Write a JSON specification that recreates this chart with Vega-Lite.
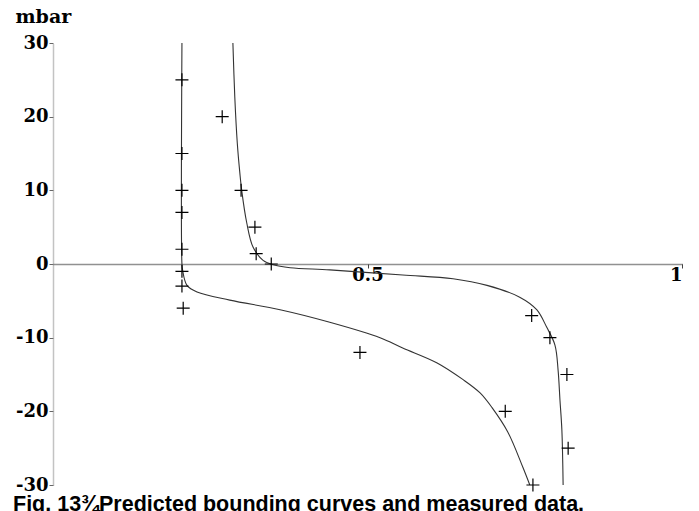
{
  "$schema": "https://vega.github.io/schema/vega-lite/v6.json",
  "width": 629,
  "height": 442,
  "autosize": "none",
  "padding": {"left": 53, "top": 43, "right": 17, "bottom": 26},
  "background": "white",
  "title": {
    "text": "Fig. 13¾Predicted bounding curves and measured data.",
    "orient": "bottom",
    "anchor": "start",
    "frame": "group",
    "dx": -40,
    "offset": 0,
    "font": "Liberation Sans",
    "fontSize": 21.5,
    "fontWeight": "bold",
    "color": "black"
  },
  "config": {
    "view": {"stroke": null},
    "axis": {"grid": false}
  },
  "datasets": {
    "curves": [
      {"curve": "A", "i": 1, "x": 0.205, "y": 30},
      {"curve": "A", "i": 2, "x": 0.205, "y": 0},
      {"curve": "A", "i": 3, "x": 0.206, "y": -0.8},
      {"curve": "A", "i": 4, "x": 0.213, "y": -2.9},
      {"curve": "A", "i": 5, "x": 0.229, "y": -3.8},
      {"curve": "A", "i": 6, "x": 0.281, "y": -4.9},
      {"curve": "A", "i": 7, "x": 0.361, "y": -6.2},
      {"curve": "A", "i": 8, "x": 0.44, "y": -7.9},
      {"curve": "A", "i": 9, "x": 0.52, "y": -10.0},
      {"curve": "A", "i": 10, "x": 0.556, "y": -11.4},
      {"curve": "A", "i": 11, "x": 0.61, "y": -13.4},
      {"curve": "A", "i": 12, "x": 0.652, "y": -15.7},
      {"curve": "A", "i": 13, "x": 0.679, "y": -17.5},
      {"curve": "A", "i": 14, "x": 0.698, "y": -19.5},
      {"curve": "A", "i": 15, "x": 0.723, "y": -22.8},
      {"curve": "A", "i": 16, "x": 0.747, "y": -27.6},
      {"curve": "A", "i": 17, "x": 0.758, "y": -30},
      {"curve": "B", "i": 1, "x": 0.286, "y": 30},
      {"curve": "B", "i": 2, "x": 0.289, "y": 22.7},
      {"curve": "B", "i": 3, "x": 0.293, "y": 16.4},
      {"curve": "B", "i": 4, "x": 0.297, "y": 12.4},
      {"curve": "B", "i": 5, "x": 0.3, "y": 10.0},
      {"curve": "B", "i": 6, "x": 0.308, "y": 5.6},
      {"curve": "B", "i": 7, "x": 0.318, "y": 2.3},
      {"curve": "B", "i": 8, "x": 0.334, "y": 0.5},
      {"curve": "B", "i": 9, "x": 0.35, "y": -0.1},
      {"curve": "B", "i": 10, "x": 0.377, "y": -0.5},
      {"curve": "B", "i": 11, "x": 0.44, "y": -0.8},
      {"curve": "B", "i": 12, "x": 0.556, "y": -1.5},
      {"curve": "B", "i": 13, "x": 0.636, "y": -2.0},
      {"curve": "B", "i": 14, "x": 0.69, "y": -2.9},
      {"curve": "B", "i": 15, "x": 0.742, "y": -4.5},
      {"curve": "B", "i": 16, "x": 0.769, "y": -6.2},
      {"curve": "B", "i": 17, "x": 0.785, "y": -8.6},
      {"curve": "B", "i": 18, "x": 0.798, "y": -11.0},
      {"curve": "B", "i": 19, "x": 0.803, "y": -14.4},
      {"curve": "B", "i": 20, "x": 0.806, "y": -18.5},
      {"curve": "B", "i": 21, "x": 0.809, "y": -22.5},
      {"curve": "B", "i": 22, "x": 0.811, "y": -30}
    ],
    "points": [
      {"x": 0.205, "y": 25},
      {"x": 0.205, "y": 15},
      {"x": 0.205, "y": 10},
      {"x": 0.205, "y": 7},
      {"x": 0.205, "y": 2},
      {"x": 0.205, "y": -1},
      {"x": 0.205, "y": -3},
      {"x": 0.207, "y": -6},
      {"x": 0.269, "y": 20},
      {"x": 0.299, "y": 10},
      {"x": 0.321, "y": 5},
      {"x": 0.323, "y": 1.4},
      {"x": 0.347, "y": 0},
      {"x": 0.488, "y": -12},
      {"x": 0.719, "y": -20},
      {"x": 0.763, "y": -30},
      {"x": 0.761, "y": -7},
      {"x": 0.79, "y": -10},
      {"x": 0.817, "y": -15},
      {"x": 0.819, "y": -25}
    ]
  },
  "encoding": {
    "x": {
      "field": "x",
      "type": "quantitative",
      "scale": {"domain": [0, 1], "nice": false, "zero": false},
      "axis": {
        "orient": "bottom",
        "offset": -221,
        "values": [0.5, 1],
        "title": null,
        "format": "~g",
        "tickSize": 4,
        "tickColor": "#444",
        "domainColor": "#222",
        "domainDash": [1, 1],
        "domainWidth": 1.5,
        "labelFont": "DejaVu Serif",
        "labelFontSize": 18,
        "labelFontWeight": "bold",
        "labelColor": "black",
        "labelPadding": -2
      }
    },
    "y": {
      "field": "y",
      "type": "quantitative",
      "scale": {"domain": [-30, 30], "nice": false},
      "axis": {
        "values": [-30, -20, -10, 0, 10, 20, 30],
        "labelExpr": "datum.value < 0 ? '-' + abs(datum.value) : '' + datum.value",
        "title": "mbar",
        "titleAngle": 0,
        "titleAlign": "left",
        "titleBaseline": "alphabetic",
        "titleX": -38,
        "titleY": -21,
        "titleFont": "DejaVu Serif",
        "titleFontSize": 19,
        "titleFontWeight": "bold",
        "titleColor": "black",
        "tickSize": 4,
        "tickColor": "#666",
        "domainColor": "#888",
        "domainDash": [1, 1],
        "domainWidth": 1.5,
        "labelFont": "DejaVu Serif",
        "labelFontSize": 18,
        "labelFontWeight": "bold",
        "labelColor": "black",
        "labelPadding": 1
      }
    }
  },
  "layer": [
    {
      "data": {"name": "curves"},
      "mark": {"type": "line", "color": "#333", "strokeWidth": 1.1, "clip": true, "interpolate": "catmull-rom"},
      "encoding": {
        "detail": {"field": "curve"},
        "order": {"field": "i", "type": "quantitative"}
      }
    },
    {
      "data": {"name": "points"},
      "mark": {
        "type": "point",
        "shape": "M-1,0L1,0M0,-1L0,1",
        "size": 169,
        "filled": false,
        "stroke": "black",
        "strokeWidth": 1.2,
        "opacity": 1
      }
    }
  ]
}
